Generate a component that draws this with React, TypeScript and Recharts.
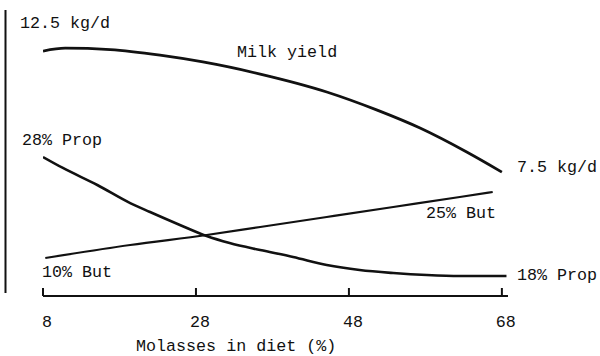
import { LineChart, Line, XAxis, YAxis } from "recharts";

// molasses in diet (%) on x
const xTicks = [8, 28, 48, 68];

// milk yield, kg/d
const milkYield = [
  { x: 8, v: 12.5 },
  { x: 10.9, v: 12.62 },
  { x: 16.8, v: 12.56 },
  { x: 23.3, v: 12.33 },
  { x: 28.9, v: 12.05 },
  { x: 36.4, v: 11.55 },
  { x: 45.1, v: 10.81 },
  { x: 51.7, v: 10.06 },
  { x: 57.3, v: 9.32 },
  { x: 63.4, v: 8.33 },
  { x: 68.0, v: 7.5 },
];

// propionate, % of VFA
const propionate = [
  { x: 8, v: 28 },
  { x: 10.6, v: 27.08 },
  { x: 15.1, v: 25.65 },
  { x: 19.4, v: 24.13 },
  { x: 22.0, v: 23.38 },
  { x: 25.9, v: 22.29 },
  { x: 29.4, v: 21.36 },
  { x: 32.4, v: 20.77 },
  { x: 36.4, v: 20.18 },
  { x: 40.7, v: 19.6 },
  { x: 45.1, v: 18.92 },
  { x: 49.4, v: 18.5 },
  { x: 53.8, v: 18.25 },
  { x: 58.2, v: 18.08 },
  { x: 62.5, v: 18.0 },
  { x: 68.6, v: 18.0 },
];

// butyrate, % of VFA
const butyrate = [
  { x: 8.3, v: 10 },
  { x: 19.4, v: 12.95 },
  { x: 29.4, v: 15.23 },
  { x: 36.4, v: 17.05 },
  { x: 45.1, v: 19.32 },
  { x: 53.8, v: 21.59 },
  { x: 62.5, v: 23.86 },
  { x: 66.8, v: 25.0 },
];

const FONT = '"Liberation Mono", "Courier New", monospace';
const INK = "#111";
const FS = 16.7;

const AxisTick = (props: any) => {
  const { x, y, payload } = props;
  return (
    <g>
      <line x1={x} y1={y} x2={x} y2={y - 8} stroke={INK} strokeWidth={2} />
      <text
        x={x + 4}
        y={y + 31}
        textAnchor="middle"
        fontFamily={FONT}
        fontSize={FS}
        fill={INK}
      >
        {payload.value}
      </text>
    </g>
  );
};

const Note = ({ x, y, children }: { x: number; y: number; children: string }) => (
  <text x={x} y={y} fontFamily={FONT} fontSize={FS} fill={INK}>
    {children}
  </text>
);

export default function App() {
  return (
    <div style={{ position: "absolute", left: 0, top: 0, background: "#fff" }}>
      <LineChart
        width={600}
        height={356}
        margin={{ top: 16, right: 92, bottom: 0, left: 43 }}
      >
        <XAxis
          type="number"
          dataKey="x"
          domain={[8, 68.8]}
          ticks={xTicks}
          allowDataOverflow
          height={60}
          tickSize={0}
          tickMargin={0}
          tickLine={false}
          axisLine={{ stroke: INK, strokeWidth: 2 }}
          tick={<AxisTick />}
        />
        <YAxis yAxisId="milk" hide domain={[2.38, 13.95]} />
        <YAxis yAxisId="prop" hide domain={[16.32, 39.85]} />
        <YAxis yAxisId="but" hide domain={[1.36, 65]} />
        <Line
          yAxisId="milk"
          data={milkYield}
          dataKey="v"
          type="monotone"
          stroke={INK}
          strokeWidth={2.8}
          dot={false}
          isAnimationActive={false}
        />
        <Line
          yAxisId="prop"
          data={propionate}
          dataKey="v"
          type="monotone"
          stroke={INK}
          strokeWidth={2.6}
          dot={false}
          isAnimationActive={false}
        />
        <Line
          yAxisId="but"
          data={butyrate}
          dataKey="v"
          type="monotone"
          stroke={INK}
          strokeWidth={2.2}
          dot={false}
          isAnimationActive={false}
        />
        <line x1={5.5} y1={10} x2={5.5} y2={293} stroke={INK} strokeWidth={2} />
        <Note x={20} y={28}>12.5 kg/d</Note>
        <Note x={237} y={57}>Milk yield</Note>
        <Note x={517} y={172}>7.5 kg/d</Note>
        <Note x={22} y={145}>28% Prop</Note>
        <Note x={426} y={218}>25% But</Note>
        <Note x={42} y={277}>10% But</Note>
        <Note x={517} y={280}>18% Prop</Note>
        <Note x={136} y={351}>Molasses in diet (%)</Note>
      </LineChart>
    </div>
  );
}
